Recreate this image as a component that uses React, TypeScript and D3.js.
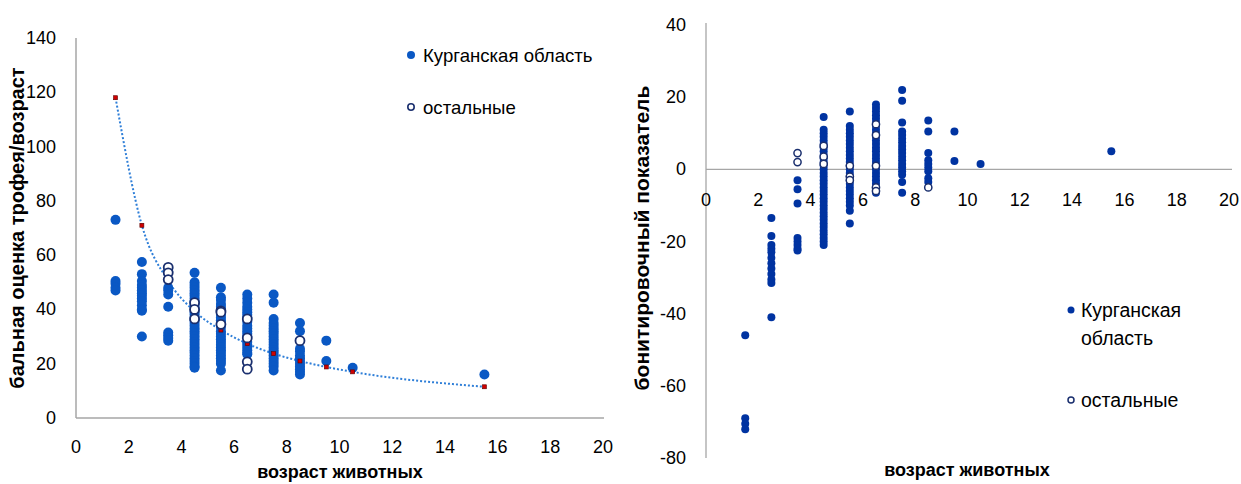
import React from "react";
import * as d3 from "d3";

// ---------- DATA ----------
// Left chart: балльная оценка трофея / возраст
const ages = [1.5, 2.5, 3.5, 4.5, 5.5, 6.5, 7.5, 8.5, 9.5, 10.5, 15.5];

const leftKurgan: number[][] = [
  [73, 50.5, 49.5, 48, 47],
  [57.5, 53, 50.5, 49, 48, 47, 46, 45, 44, 43, 41.5, 40, 39.5, 30],
  [55, 54, 48, 47, 45.5, 41, 31.5, 30.5, 29.5, 28.5],
  [53.5, 50, 49, 48, 47, 46, 45, 44, 43, 42, 41, 40, 39, 38, 37, 36, 35, 34, 33, 32, 31, 30, 29, 28, 27, 26, 25, 24, 23, 22, 21, 20, 19, 18.5],
  [48, 44.5, 43.5, 42, 41, 40, 38, 37, 36, 35, 33.5, 32, 31, 30, 29, 28, 27, 26, 25, 24, 23, 22, 21, 20, 17.5],
  [45.5, 44, 42.5, 41, 40, 39, 38, 37, 35.5, 34, 33, 32, 31, 30, 28, 27, 26, 25, 24, 23.5],
  [45.5, 42.5, 36.5, 35, 34, 33, 32, 31, 30, 29, 28, 27, 26, 25, 24, 23, 22, 21, 20, 19, 17.5],
  [35, 32, 25.5, 24.5, 23, 22, 21, 20, 19, 18, 17, 16],
  [28.5, 21],
  [18.5],
  [16],
];

const leftOthers: number[][] = [
  [],
  [],
  [55.5, 53.5, 51],
  [42.5, 40, 36.5],
  [39.5, 39, 34.5],
  [36.5, 29.5, 20.7, 18],
  [],
  [28.5],
  [],
  [],
  [],
];

// trend (red markers joined by dotted line)
const trendValues = [118, 71, 50.5, 39.3, 32.4, 27.4, 23.7, 21, 18.8, 17, 11.5];

// Right chart: бонитировочный показатель
const rightKurgan: number[][] = [
  [-46, -69, -70.5, -72],
  [-13.5, -18.5, -21, -22, -23, -24.5, -26, -27.5, -29, -30.5, -31.5, -41],
  [-3, -5.5, -9.5, -19, -20, -21, -22, -22.5],
  [14.5, 11, 10, 9, 8, 7, 6, 5, 4, 3, 2, 1, 0, -1, -2, -3, -4, -5, -6, -7, -8, -9, -10, -11, -12, -13, -14, -15, -16, -17, -18, -19, -20, -21],
  [16, 12, 11, 10, 9, 8, 7, 6, 5, 4, 3, 2, 1, 0, -1, -2, -3, -4, -5, -6, -7, -8, -9, -10, -11.5, -15],
  [18, 17, 16, 15, 14, 13, 12, 11, 10, 9, 8, 7, 6, 5, 4, 3, 2, 1, 0, -1, -2, -3, -4, -5, -6.5],
  [22, 19, 13, 10.5, 9.5, 8.5, 7.5, 6.5, 5.5, 4.5, 3.5, 2.5, 1.5, 0.5, -0.5, -1.5, -3.5, -6.5],
  [13.5, 10.5, 4.5, 2.5, 1.5, 0.5, -0.5, -2.5, -3.5],
  [10.5, 2.3],
  [1.5],
  [5],
];

const rightOthers: number[][] = [
  [],
  [],
  [4.5, 2],
  [6.5, 3.5, 1.5],
  [1, -2, -3],
  [12.5, 9.5, 1, -5, -6],
  [],
  [-5],
  [],
  [],
  [],
];

const xTicks = [0, 2, 4, 6, 8, 10, 12, 14, 16, 18, 20];
const leftYTicks = [0, 20, 40, 60, 80, 100, 120, 140];
const rightYTicks = [-80, -60, -40, -20, 0, 20, 40];

const seriesNames = ["Курганская область", "остальные"];
const legendWrapped = ["Курганская", "область"];
const xTitle = "возраст животных";
const leftYTitle = "бальная оценка трофея/возраст";
const rightYTitle = "бонитировочный показатель";

// ---------- STYLE ----------
const FONT = "'Liberation Sans', Arial, sans-serif";
const leftBlue = "#0a58c4";
const rightBlue = "#0033a1";
const openStroke = "#1a2f6e";
const axisGray = "#a6a6a6";

const flatten = (cols: number[][]) =>
  cols.flatMap((vals, i) => vals.map((v) => ({ x: ages[i], y: v })));

export default function App() {
  // left scales
  const lx = d3.scaleLinear().domain([0, 20]).range([76, 603]);
  const ly = d3.scaleLinear().domain([0, 140]).range([418, 38]);
  // right scales
  const rx = d3.scaleLinear().domain([0, 20]).range([706, 1229]);
  const ry = d3.scaleLinear().domain([-80, 40]).range([458, 25]);

  const lK = flatten(leftKurgan);
  const lO = flatten(leftOthers);
  const rK = flatten(rightKurgan);
  const rO = flatten(rightOthers);
  const trend = ages.map((a, i) => ({ x: a, y: trendValues[i] }));

  const trendLine = d3
    .line<{ x: number; y: number }>()
    .x((d) => lx(d.x))
    .y((d) => ly(d.y))
    .curve(d3.curveMonotoneX)(trend);

  return (
    <svg
      width={1241}
      height={484}
      style={{ position: "absolute", left: 0, top: 0, background: "#fff" }}
      fontFamily={FONT}
    >
      <rect x={0} y={0} width={1241} height={484} fill="#fff" />

      {/* ===== LEFT CHART ===== */}
      <line x1={lx(0)} x2={lx(0)} y1={ly(140)} y2={ly(0)} stroke={axisGray} strokeWidth={1.5} />
      <line x1={lx(0)} x2={lx(20) + 1} y1={ly(0)} y2={ly(0)} stroke={axisGray} strokeWidth={1.5} />
      {leftYTicks.map((t) => (
        <text key={"ly" + t} x={56} y={ly(t)} textAnchor="end" dominantBaseline="central" fontSize={18} fill="#000">
          {t}
        </text>
      ))}
      {xTicks.map((t) => (
        <text key={"lx" + t} x={lx(t)} y={447} textAnchor="middle" dominantBaseline="central" fontSize={18} fill="#000">
          {t}
        </text>
      ))}
      <text
        transform={`translate(24,228) rotate(-90)`}
        textAnchor="middle"
        fontSize={20}
        fontWeight="bold"
        fill="#000"
      >
        {leftYTitle}
      </text>
      <text x={340} y={478} textAnchor="middle" fontSize={18} fontWeight="bold" fill="#000">
        {xTitle}
      </text>

      <path d={trendLine || ""} fill="none" stroke="#2f7fd8" strokeWidth={2} strokeDasharray="2,2" />
      {lK.map((d, i) => (
        <circle key={"lk" + i} cx={lx(d.x)} cy={ly(d.y)} r={5} fill={leftBlue} />
      ))}
      {trend.map((d, i) => (
        <rect key={"tr" + i} x={lx(d.x) - 2} y={ly(d.y) - 2} width={4} height={4} fill="#d00000" stroke="#5a0000" strokeWidth={0.6} />
      ))}
      {lO.map((d, i) => (
        <circle key={"lo" + i} cx={lx(d.x)} cy={ly(d.y)} r={4.5} fill="#fff" stroke={openStroke} strokeWidth={1.8} />
      ))}

      {/* left legend */}
      <circle cx={411} cy={55} r={4} fill={leftBlue} />
      <text x={423} y={55} dominantBaseline="central" fontSize={18.6} fill="#000">
        {seriesNames[0]}
      </text>
      <circle cx={411} cy={107} r={3.2} fill="#fff" stroke={openStroke} strokeWidth={1.6} />
      <text x={423} y={107} dominantBaseline="central" fontSize={18.6} fill="#000">
        {seriesNames[1]}
      </text>

      {/* ===== RIGHT CHART ===== */}
      <line x1={rx(0)} x2={rx(0)} y1={ry(40) - 2} y2={ry(-80)} stroke={axisGray} strokeWidth={1.3} />
      <line x1={rx(0)} x2={rx(20) + 3} y1={ry(0)} y2={ry(0)} stroke={axisGray} strokeWidth={1.3} />
      {rightYTicks.map((t) => (
        <text key={"ry" + t} x={686} y={ry(t)} textAnchor="end" dominantBaseline="central" fontSize={18} fill="#000">
          {t}
        </text>
      ))}
      {xTicks.map((t) => (
        <text key={"rx" + t} x={rx(t)} y={ry(0) + 31} textAnchor="middle" dominantBaseline="central" fontSize={18} fill="#000">
          {t}
        </text>
      ))}
      <text
        transform={`translate(649,238) rotate(-90)`}
        textAnchor="middle"
        fontSize={21}
        fontWeight="bold"
        fill="#000"
      >
        {rightYTitle}
      </text>
      <text x={967} y={476} textAnchor="middle" fontSize={18} fontWeight="bold" fill="#000">
        {xTitle}
      </text>

      {rK.map((d, i) => (
        <circle key={"rk" + i} cx={rx(d.x)} cy={ry(d.y)} r={4} fill={rightBlue} />
      ))}
      {rO.map((d, i) => (
        <circle key={"ro" + i} cx={rx(d.x)} cy={ry(d.y)} r={3.6} fill="#fff" stroke={openStroke} strokeWidth={1.5} />
      ))}

      {/* right legend */}
      <circle cx={1071} cy={310} r={3.5} fill={rightBlue} />
      <text x={1081} y={310} dominantBaseline="central" fontSize={19.5} fill="#000">
        {legendWrapped[0]}
      </text>
      <text x={1081} y={338} dominantBaseline="central" fontSize={19.5} fill="#000">
        {legendWrapped[1]}
      </text>
      <circle cx={1071} cy={400} r={3} fill="#fff" stroke={openStroke} strokeWidth={1.5} />
      <text x={1081} y={400} dominantBaseline="central" fontSize={19.5} fill="#000">
        {seriesNames[1]}
      </text>
    </svg>
  );
}
